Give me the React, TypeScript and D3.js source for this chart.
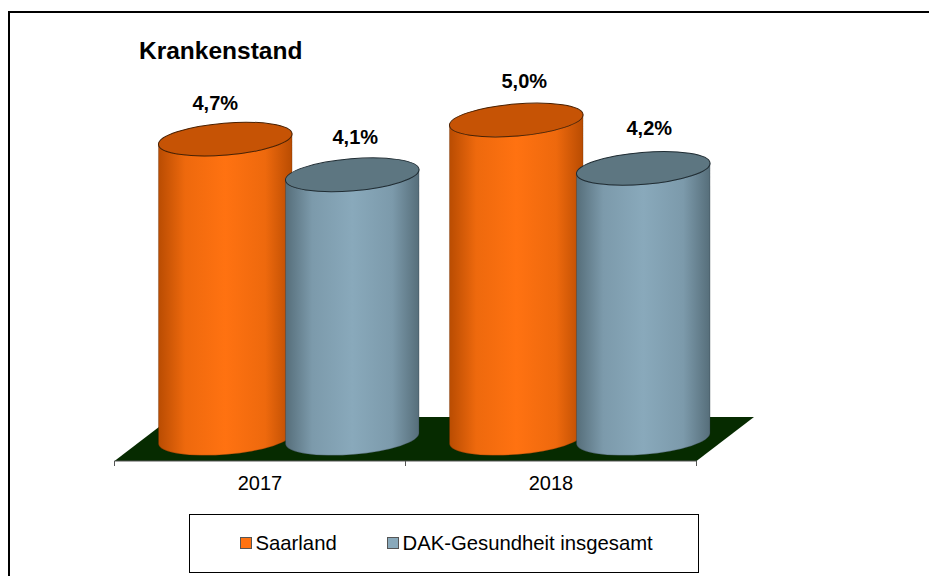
import React from "react";
import * as d3 from "d3";

const years = ["2017", "2018"];
const seriesNames = ["Saarland", "DAK-Gesundheit insgesamt"];
const saarland = [4.7, 5.0];
const dak = [4.14, 4.24];
const allSeries = [saarland, dak];
const labelFormat = (v: number) => v.toFixed(1).replace(".", ",") + "%";

const W = 929, H = 576;
const FONT = '"Liberation Sans", Arial, sans-serif';
const floorFront = 461, floorBack = 417, floorLeft = 114.5, floorRight = 696.5, depth = 57.5;
const baseY = 438.5;
const x0 = d3.scaleBand<string>().domain(years).range([floorLeft, floorRight]);
const x1 = d3.scalePoint<string>().domain(seriesNames).range([-63.5, 63.5]);
const y = d3.scaleLinear().domain([0, 5]).range([baseY, 120]);
const rx = 67, ry = 16, tilt = (-4.7 * Math.PI) / 180;
const dx = rx * Math.cos(tilt), dy = rx * Math.sin(tilt);
const tiltDeg = (tilt * 180) / Math.PI;

const palette = [
  { id: "orange", edge: "#b94c02", mid: "#ff7211", top: "#c65305", line: "#4a2000" },
  { id: "teal", edge: "#566e7a", mid: "#89a9bb", top: "#5d7681", line: "#1f2c33" },
];
const labelNudge = [
  [[-10, -29], [3, -31]],
  [[8, -32], [6, -33]],
];

function Cylinder({ cx, topY, c }: { cx: number; topY: number; c: (typeof palette)[number] }) {
  const body =
    `M${cx - dx},${topY - dy} L${cx - dx},${baseY - dy} ` +
    `A${rx},${ry} ${tiltDeg} 0 0 ${cx + dx},${baseY + dy} ` +
    `L${cx + dx},${topY + dy} A${rx},${ry} ${tiltDeg} 0 1 ${cx - dx},${topY - dy} Z`;
  return (
    <g>
      <path d={body} fill={`url(#grad-${c.id})`} stroke={c.line} strokeOpacity={0.35} strokeWidth={0.8} />
      <ellipse
        cx={cx}
        cy={topY}
        rx={rx}
        ry={ry}
        transform={`rotate(${tiltDeg} ${cx} ${topY})`}
        fill={c.top}
        stroke={c.line}
        strokeWidth={1}
      />
    </g>
  );
}

export default function App() {
  const floor = d3.line()([
    [floorLeft, floorFront],
    [floorRight, floorFront],
    [floorRight + depth, floorBack],
    [floorLeft + depth, floorBack],
  ]) + "Z";
  const ticks = [floorLeft, ...years.map((yr) => (x0(yr) as number) + x0.bandwidth())];
  return (
    <svg
      width={W}
      height={H}
      viewBox={`0 0 ${W} ${H}`}
      style={{ position: "fixed", left: 0, top: 0, background: "#fff" }}
      fontFamily={FONT}
    >
      <defs>
        {palette.map((c) => (
          <linearGradient key={c.id} id={`grad-${c.id}`} x1="0" x2="1" y1="0" y2="0">
            <stop offset="0" stopColor={c.edge} />
            <stop offset="0.2" stopColor={d3.interpolateRgb(c.edge, c.mid)(0.75)} />
            <stop offset="0.5" stopColor={c.mid} />
            <stop offset="0.8" stopColor={d3.interpolateRgb(c.edge, c.mid)(0.75)} />
            <stop offset="1" stopColor={c.edge} />
          </linearGradient>
        ))}
      </defs>
      <path d={`M9,${H} V12 H${W}`} fill="none" stroke="#000" strokeWidth={2} />
      <text x={139} y={59} fontSize={24.5} fontWeight="bold" fill="#000">Krankenstand</text>

      <path d={floor} fill="#062b00" />
      <line x1={floorLeft} x2={floorRight} y1={floorFront} y2={floorFront} stroke="#555" strokeWidth={1.2} />
      {ticks.map((t) => (
        <line key={t} x1={t} x2={t} y1={floorFront} y2={floorFront + 5} stroke="#555" strokeWidth={1} />
      ))}
      {years.map((yr) => (
        <text key={yr} x={(x0(yr) as number) + x0.bandwidth() / 2} y={490} fontSize={20} textAnchor="middle" fill="#000">
          {yr}
        </text>
      ))}

      {years.map((yr, i) =>
        seriesNames.map((s, j) => (
          <Cylinder
            key={yr + s}
            cx={(x0(yr) as number) + x0.bandwidth() / 2 + depth / 2 + (x1(s) as number)}
            topY={y(allSeries[j][i])}
            c={palette[j]}
          />
        ))
      )}
      {years.map((yr, i) =>
        seriesNames.map((s, j) => (
          <text
            key={yr + s}
            x={(x0(yr) as number) + x0.bandwidth() / 2 + depth / 2 + (x1(s) as number) + labelNudge[i][j][0]}
            y={y(allSeries[j][i]) + labelNudge[i][j][1]}
            fontSize={20}
            fontWeight="bold"
            textAnchor="middle"
            fill="#000"
          >
            {labelFormat(allSeries[j][i])}
          </text>
        ))
      )}

      <rect x={189.5} y={514.5} width={509} height={58} fill="#fff" stroke="#000" strokeWidth={1} />
      {seriesNames.map((s, j) => {
        const sx = [240, 387][j];
        return (
          <g key={s}>
            <rect x={sx + 0.5} y={537.5} width={11} height={11} fill={palette[j].mid} stroke="#555" strokeWidth={1} />
            <text x={sx + 15.5} y={550} fontSize={20.3} fill="#000">{s}</text>
          </g>
        );
      })}
    </svg>
  );
}
